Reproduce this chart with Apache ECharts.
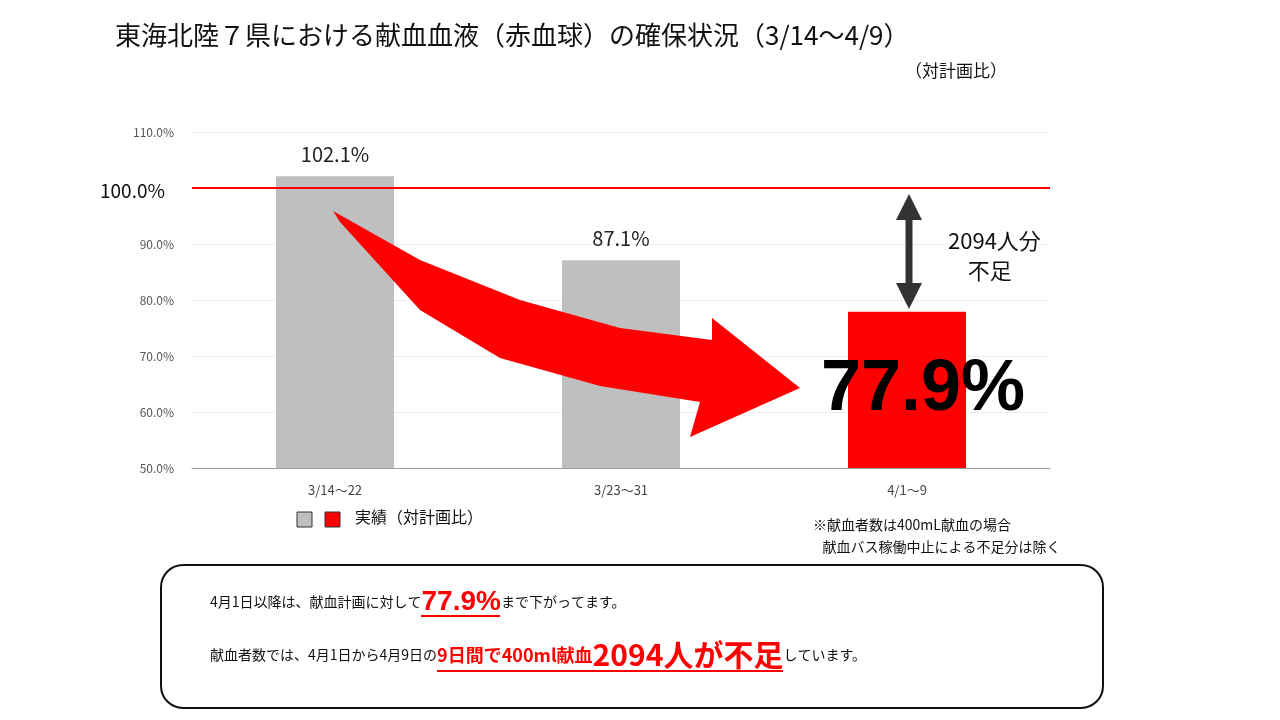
<!DOCTYPE html>
<html><head><meta charset="utf-8">
<script src="https://cdn.jsdelivr.net/npm/echarts@6/dist/echarts.min.js"></script>
<style>html,body{margin:0;background:#fff}#c{width:1280px;height:720px}</style>
</head><body><div id="c"></div>
<script>
var categories = ['3/14～22', '3/23～31', '4/1～9'];
var values = [102.1, 87.1, 77.9];
var barColors = ['#bfbfbf', '#bfbfbf', '#ff0000'];
var yTicks = [50, 60, 70, 80, 90, 100, 110];

var font = '"Noto Sans CJK JP", sans-serif';
var chart = echarts.init(document.getElementById('c'));

var option = {
    animation: false,
    textStyle: {fontFamily: font},
    grid: {left: 192, right: 230, top: 132, bottom: 252},
    xAxis: {
        type: 'category', data: categories,
        axisLine: {lineStyle: {color: '#999'}}, axisTick: {show: false},
        axisLabel: {color: '#444', fontSize: 13, margin: 16}
    },
    yAxis: {
        type: 'value', min: yTicks[0], max: yTicks[yTicks.length - 1], interval: 10,
        axisLine: {show: false}, axisTick: {show: false},
        splitLine: {lineStyle: {color: '#eee'}},
        axisLabel: {color: '#555', fontSize: 12, margin: 18,
            formatter: function (v) { return v === 100 ? '' : v.toFixed(1) + '%'; }}
    },
    series: [{
        type: 'bar', barWidth: 118,
        data: values.map(function (v, i) {
            return {value: v, itemStyle: {color: barColors[i]},
                label: i === 2 ? {show: true, position: 'inside', offset: [16, 0], color: '#000', fontSize: 72, fontWeight: 'bold', fontFamily: 'Arial, sans-serif', formatter: '77.9%'} : {show: true}};
        }),
        label: {show: true, position: 'top', distance: 12, color: '#222', fontSize: 20,
            formatter: function (p) { return p.value.toFixed(1) + '%'; }},
        markLine: {
            symbol: 'none', silent: true,
            lineStyle: {color: '#ff0000', width: 2, type: 'solid'},
            label: {show: false},
            data: [{yAxis: 100}]
        }
    }],
    graphic: [
        {type: 'text', left: 115, top: 22, style: {text: '東海北陸７県における献血血液（赤血球）の確保状況（3/14～4/9）', font: '26px ' + font, fill: '#111'}},
        {type: 'text', left: 905, top: 62, style: {text: '（対計画比）', font: '17px ' + font, fill: '#111'}},
        {type: 'text', left: 100, top: 181, style: {text: '100.0%', font: '19px ' + font, fill: '#111'}},
        {type: 'polygon', z: 100, shape: {points: [[333, 211], [420, 260], [520, 300], [620, 328], [712, 340], [712, 318], [800, 388], [690, 437], [700, 402], [600, 386], [500, 358], [420, 310], [340, 222]]}, style: {fill: '#ff0000'}},
        {type: 'line', z: 100, shape: {x1: 909, y1: 210, x2: 909, y2: 293}, style: {stroke: '#333', lineWidth: 7}},
        {type: 'polygon', z: 100, shape: {points: [[909, 194], [896, 220], [922, 220]]}, style: {fill: '#333'}},
        {type: 'polygon', z: 100, shape: {points: [[909, 309], [896, 283], [922, 283]]}, style: {fill: '#333'}},
        {type: 'text', z: 100, left: 948, top: 226, style: {text: '2094人分\n    不足', font: '22px ' + font, fill: '#111', lineHeight: 30, backgroundColor: '#fff'}},
        {type: 'rect', shape: {x: 297, y: 512, width: 15, height: 15}, style: {fill: '#bfbfbf', stroke: '#333'}},
        {type: 'rect', shape: {x: 325, y: 512, width: 15, height: 15}, style: {fill: '#ff0000', stroke: '#333'}},
        {type: 'text', left: 355, top: 509, style: {text: '実績（対計画比）', font: '16px ' + font, fill: '#111'}},
        {type: 'text', left: 813, top: 514, style: {text: '※献血者数は400mL献血の場合\n   献血バス稼働中止による不足分は除く', font: '14px ' + font, fill: '#111', lineHeight: 22}},
        {type: 'rect', shape: {x: 161, y: 565, width: 942, height: 143, r: 22}, style: {fill: 'none', stroke: '#111', lineWidth: 2}},
        {type: 'text', left: 210, top: 588, style: {
            text: '4月1日以降は、献血計画に対して{r|77.9%}まで下がってます。',
            font: '14px ' + font, fill: '#111',
            rich: {r: {fontSize: 28, fontWeight: 'bold', fill: '#ff0000', fontFamily: 'Arial, sans-serif'}}}},
        {type: 'text', left: 210, top: 640, style: {
            text: '献血者数では、4月1日から4月9日の{a|9日間で400ml献血}{b|2094人が不足}しています。',
            font: '14px ' + font, fill: '#111',
            rich: {
                a: {fontSize: 18, fontWeight: 'bold', fill: '#ff0000', fontFamily: font},
                b: {fontSize: 30, fontWeight: 'bold', fill: '#ff0000', fontFamily: font}}}},
        {type: 'line', shape: {x1: 437, y1: 671, x2: 783, y2: 671}, style: {stroke: '#ff0000', lineWidth: 2}},
        {type: 'line', shape: {x1: 421, y1: 616, x2: 500, y2: 616}, style: {stroke: '#ff0000', lineWidth: 2}}
    ]
};
chart.setOption(option);
</script></body></html>
